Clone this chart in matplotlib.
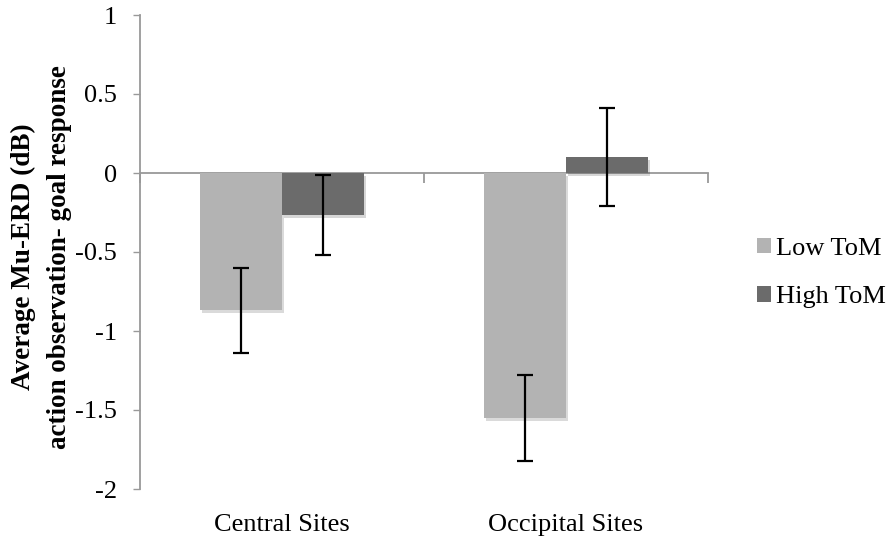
import matplotlib.pyplot as plt
import matplotlib.patheffects as pe
from matplotlib.patches import Patch
import numpy as np

plt.rcParams['font.family'] = ['Liberation Serif', 'DejaVu Serif']

sites = ['Central Sites', 'Occipital Sites']
groups = ['Low ToM', 'High ToM']
low_tom = [-0.87, -1.55]
high_tom = [-0.265, 0.10]
low_err = [0.27, 0.27]
high_err = [0.255, 0.31]
colors = ['#b3b3b3', '#6b6b6b']
axis_grey = '#999999'

W, H = 888, 543
fig = plt.figure(figsize=(W / 100, H / 100), dpi=100)
ax = fig.add_axes([140 / W, 1 - 489 / H, 568 / W, 474 / H])

x = np.arange(len(sites))
w = 0.29
shadow = [pe.SimplePatchShadow(offset=(1.5, -2), alpha=0.18), pe.Normal()]
for vals, errs, off, col in [(low_tom, low_err, -w / 2, colors[0]),
                             (high_tom, high_err, w / 2, colors[1])]:
    bars = ax.bar(x + off, vals, w, color=col, zorder=2)
    for b in bars:
        b.set_path_effects(shadow)
    ax.errorbar(x + off, vals, yerr=errs, fmt='none', ecolor='black',
                elinewidth=1.6, capsize=5.8, capthick=1.6, zorder=3)

ax.set_xlim(-0.5, 1.5)
ax.set_ylim(-2, 1)
ax.set_yticks([1, 0.5, 0, -0.5, -1, -1.5, -2])
ax.set_yticklabels(['1', '0.5', '0', '-0.5', '-1', '-1.5', '-2'])
ax.tick_params(axis='y', direction='out', length=5, width=1, color=axis_grey,
               labelsize=19, pad=11.5)

ax.set_xticks(x)
ax.set_xticklabels(sites)
ax.tick_params(axis='x', length=0, labelsize=19, pad=18)

for s in ['top', 'right', 'bottom']:
    ax.spines[s].set_visible(False)
ax.spines['left'].set_color(axis_grey)
ax.spines['left'].set_linewidth(1.3)

# category axis running along y = 0, ticks between the groups
zero_axis = ax.secondary_xaxis(2 / 3)
zero_axis.set_xticks([-0.5, 0.5, 1.5])
zero_axis.set_xticklabels([])
for sp in zero_axis.spines.values():
    sp.set_color(axis_grey)
    sp.set_linewidth(1.3)
zero_axis.tick_params(direction='in', length=7, width=1.3, color=axis_grey)

ax.set_ylabel('Average Mu-ERD (dB)\naction observation- goal response',
              fontsize=19.5, fontweight='bold', linespacing=1.6)
ax.yaxis.set_label_coords((72 - 140) / 568, 0.49)

handles = [Patch(facecolor=c, label=g) for c, g in zip(colors, groups)]
fig.legend(handles=handles, loc='center left',
           bbox_to_anchor=(757 / W, 1 - 273 / H),
           frameon=False, fontsize=19, handlelength=0.53, handleheight=0.53,
           handletextpad=0.19, labelspacing=1.0, borderpad=0, borderaxespad=0)

fig.savefig('out.png', dpi=100)
